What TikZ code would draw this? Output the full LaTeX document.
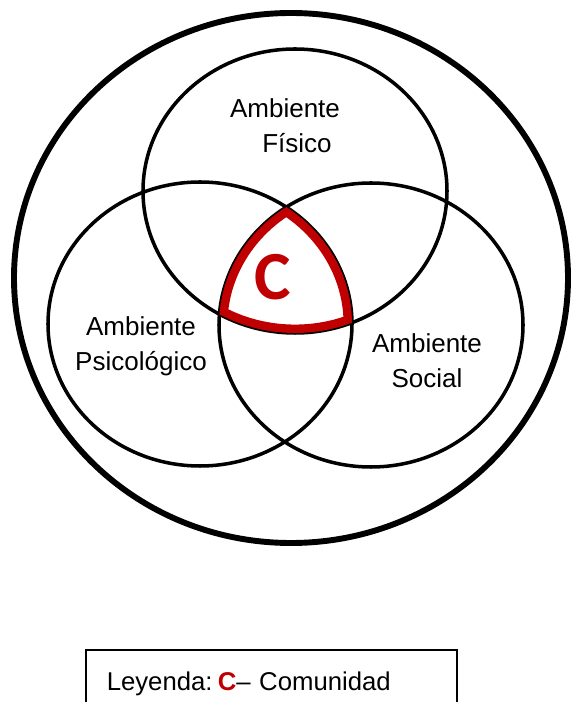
\documentclass[tikz,border=0pt]{standalone}
\usepackage{fontspec}
\setmainfont{Liberation Sans}
\newfontfamily\calibrifont{Carlito}

\begin{document}
\begin{tikzpicture}[
  x=1cm,y=1cm,
  ring/.style={draw=black,line width=2.5pt},
  bigring/.style={draw=black,line width=4.2pt},
  community/.style={draw=redC,line width=12pt},
  envlabel/.style={font=\fontsize{18.5}{25.6}\selectfont,align=center,
                   anchor=base,inner sep=0pt},
]
\definecolor{redC}{HTML}{C00000}
\useasboundingbox (0,0) rectangle (14.25,17.55);

\coordinate (world) at (7.275,10.6);
\coordinate (fisC) at (7.375,12.775);
\coordinate (psiC) at (5.0,9.45);
\coordinate (socC) at (9.275,9.425);

\draw[bigring] (world) ellipse [x radius=6.925,y radius=6.625];
\foreach \c in {fisC,psiC,socC}
  \draw[ring] (\c) ellipse [x radius=3.8,y radius=3.55];

% the community is where all three environments overlap
\begin{scope}
  \clip (fisC) ellipse [x radius=3.8,y radius=3.55];
  \clip (psiC) ellipse [x radius=3.8,y radius=3.55];
  \clip (socC) ellipse [x radius=3.8,y radius=3.55];
  \draw[community] (fisC) ellipse [x radius=3.8,y radius=3.55]
    (psiC) ellipse [x radius=3.8,y radius=3.55]
    (socC) ellipse [x radius=3.8,y radius=3.55];
\end{scope}

\node[text=redC,font=\calibrifont\bfseries\fontsize{49}{49}\selectfont]
  (comm) at (6.8125,10.6125) {C};

% base anchor sits on the second line
\node[envlabel] (fis) at (7.125,13.725) {Ambiente\\\hspace*{0.6cm}Físico};
\node[envlabel] (psi) at (3.525,8.275) {Ambiente\\Psicológico};
\node[envlabel] (soc) at (10.675,7.85) {Ambiente\\Social};

\node[draw=black,line width=1.1pt,anchor=north west,
  inner xsep=0.525cm,inner ysep=0.475cm,text height=0.55cm,text depth=0.3cm,
  text width=8.225cm,align=left,font=\fontsize{18.3}{22}\selectfont]
  (legend) at (2.125,1.325)
  {Leyenda:\kern0.2em\textcolor{redC}{\textbf{C}}– Comunidad};
\end{tikzpicture}
\end{document}
